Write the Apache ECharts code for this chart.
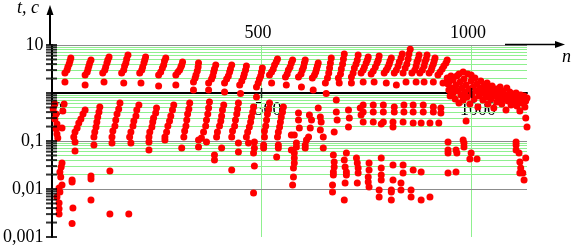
<!DOCTYPE html>
<html>
<head>
<meta charset="utf-8">
<script src="https://cdn.jsdelivr.net/npm/echarts@6/dist/echarts.min.js"></script>
<style>
  html, body { margin: 0; padding: 0; background: #fff; }
  #main { width: 573px; height: 248px; }
</style>
</head>
<body>
<div id="main"></div>
<script>
// t, c against n (log y axis)
var upperBand = [
  [46,5.36],[44,4.64],[42,4.02],[39,3.48],[37,3.01],[32,2.61],[32,1.69],
  [94,4.87],[91,4.22],[89,3.65],[87,3.16],[85,2.74],[80,2.37],[80,1.47],
  [137,5.62],[134,4.87],[132,4.22],[129,3.48],[127,3.01],[122,2.61],[125,1.69],
  [182,6.19],[179,5.11],[177,4.22],[174,3.65],[172,3.01],[167,2.61],[172,1.62],
  [224,5.62],[222,4.87],[220,4.22],[217,3.48],[215,3.01],[210,2.61],[213,1.62],
  [272,5.36],[269,4.64],[267,3.83],[264,3.32],[260,2.74],[255,2.37],[255,1.40],
  [312,4.42],[310,3.83],[308,3.48],[305,3.01],[301,2.74],[296,2.37],[296,1.47],
  [350,4.22],[349,3.48],[347,2.87],[344,2.37],[342,2.05],[338,1.69],[338,1.16],
  [391,3.83],[388,3.16],[386,2.74],[384,2.26],[381,1.96],[374,1.62],[374,1.16],
  [429,3.83],[426,3.16],[424,2.74],[421,2.26],[417,1.96],[412,1.62],[412,1.05],
  [464,3.65],[462,3.01],[459,2.49],[457,2.15],[453,1.78],[448,1.47],[450,0.98],
  [502,3.32],[500,2.74],[498,2.26],[495,1.96],[492,1.62],[488,1.33],[488,0.83],
  [538,5.11],[535,4.42],[531,3.83],[528,3.16],[524,2.74],[519,2.37],[524,1.62],
  [574,4.87],[571,4.22],[568,3.48],[564,3.01],[561,2.49],[557,2.15],[559,1.47],
  [604,4.87],[602,4.22],[600,3.48],[597,3.01],[594,2.49],[588,2.15],[595,1.33],
  [635,4.22],[633,3.65],[631,3.16],[629,2.74],[626,2.37],[621,2.05],[623,1.16],
  [666,5.36],[664,4.22],[662,3.32],[660,2.61],[657,2.05],[652,1.62],[654,0.98],
  [697,6.49],[695,5.11],[693,4.02],[690,3.16],[688,2.49],[683,2.05],[685,1.62],
  [730,6.19],[728,4.87],[725,4.02],[721,3.32],[718,2.61],[714,2.15],[714,1.62],
  [754,5.62],[752,4.87],[749,4.22],[745,3.48],[742,3.01],[737,2.61],[742,1.69],
  [780,5.90],[778,4.87],[775,4.22],[771,3.48],[766,2.87],[761,2.49],[768,1.69],
  [809,5.36],[806,4.64],[804,4.02],[801,3.48],[797,3.01],[792,2.61],[797,1.62],
  [835,6.49],[832,5.36],[828,4.42],[825,3.65],[821,3.01],[816,2.61],[821,1.47],
  [854,8.2],[851,6.49],[849,5.11],[846,4.02],[842,3.32],[837,2.61],[844,1.69],
  [875,6.19],[873,5.11],[870,4.42],[868,3.65],[865,3.01],[858,2.61],[868,1.69],
  [894,6.19],[892,5.11],[889,4.42],[887,3.65],[883,3.01],[877,2.61],[887,1.69],
  [913,5.36],[911,4.64],[909,4.02],[906,3.48],[904,3.01],[899,2.61],[909,1.69],
  [942,4.87],[939,4.22],[934,3.65],[930,3.16],[925,2.74],[920,2.37],[932,1.62]
];

var tailCloud = [
  [942,2.05],[944,1.54],[946,1.155],[949,0.866],[951,1.27],[956,1.87],[956,1.0],[961,0.75],
  [963,1.47],[965,2.26],[968,1.10],[970,0.619],[973,1.69],[975,0.909],[977,1.27],[980,0.715],
  [982,1.96],[984,1.05],[987,1.47],[989,0.825],[991,2.49],[994,1.21],[996,0.59],[999,1.78],
  [1001,0.953],[1004,1.33],[1006,0.75],[1008,2.05],[1011,1.10],[1013,1.54],[1015,0.511],[1018,0.866],
  [1020,1.27],[1022,1.78],[1025,1.0],[1027,0.715],[1030,1.40],[1032,1.10],[1034,0.825],[1037,1.62],
  [1039,0.59],[1041,1.21],[1044,0.953],[1046,0.75],[1049,1.40],[1051,1.05],[1053,0.487],[1056,0.866],
  [1058,1.21],[1060,0.649],[1063,1.0],[1065,0.787],[1068,1.33],[1070,0.953],[1072,0.59],[1075,1.10],
  [1077,0.75],[1080,0.909],[1082,0.442],[1084,1.27],[1087,0.681],[1089,0.866],[1091,1.05],[1094,0.562],
  [1096,0.787],[1098,0.953],[1101,0.649],[1103,0.75],[1106,1.0],[1108,0.536],[1110,0.681],[1113,0.825],
  [1115,0.422],[1117,0.909],[1120,0.619],[1122,0.75],[1125,0.866],[1127,0.511],[1129,0.681],[1132,0.787],
  [1129,0.301],[951,2.26],[970,2.49],[980,2.74],[999,2.37],[946,1.69],[961,1.27]
];

var lowerBand = [
  [8,0.59],[4,0.464],[11,0.365],[8,0.287],[13,0.226],[11,0.178],[13,0.14],[15,0.116],[30,0.59],[27,0.422],[25,0.187],
  [80,0.442],[75,0.365],[70,0.287],[65,0.237],[61,0.187],[56,0.154],[53,0.121],
  [115,0.511],[113,0.402],[110,0.316],[108,0.249],[106,0.196],[103,0.154],[101,0.121],
  [163,0.619],[160,0.464],[156,0.365],[153,0.274],[151,0.205],[146,0.162],[144,0.121],
  [208,0.562],[203,0.442],[201,0.332],[196,0.261],[194,0.205],[189,0.154],[186,0.121],
  [250,0.487],[248,0.383],[243,0.301],[241,0.249],[239,0.196],[234,0.154],[232,0.121],
  [291,0.562],[288,0.442],[284,0.332],[281,0.261],[277,0.205],[274,0.154],[270,0.121],
  [329,0.619],[327,0.464],[324,0.365],[322,0.274],[320,0.205],[317,0.162],[315,0.121],
  [376,0.649],[374,0.487],[372,0.365],[369,0.274],[367,0.205],[362,0.154],[357,0.116],
  [410,0.562],[407,0.442],[405,0.332],[403,0.261],[400,0.205],[395,0.154],[393,0.121],
  [445,0.619],[443,0.464],[441,0.365],[438,0.274],[436,0.205],[431,0.162],[429,0.121],
  [481,0.511],[479,0.402],[476,0.316],[474,0.249],[471,0.196],[467,0.154],[464,0.121],
  [519,0.619],[517,0.464],[514,0.365],[512,0.274],[510,0.205],[507,0.162],[507,0.121],
  [552,0.511],[550,0.402],[547,0.316],[545,0.249],[543,0.196],[540,0.154],[538,0.121],
  [588,0.383],[588,0.274],[578,0.133],[590,0.187],[614,0.348],
  [619,0.274],[616,0.187],[612,0.121],
  [635,0.487],[640,0.316],[642,0.249],[640,0.169],[647,0.121],
  [678,0.715],[678,0.402],[680,0.274],[673,0.154],
  [707,0.442],[709,0.301],[707,0.196],
  [735,0.487],[737,0.348],[742,0.249],
  [742,0.562],[742,0.402],[766,0.562],[766,0.402],[766,0.249],[790,0.562],[790,0.402],[790,0.249],[785,0.226],
  [816,0.511],[816,0.402],[813,0.249],[813,0.196],[839,0.562],[839,0.402],[837,0.249],
  [861,0.562],[861,0.402],[861,0.237],[885,0.562],[885,0.402],[880,0.237],
  [909,0.511],[909,0.402],[901,0.237],[922,0.237],[927,0.487],[927,0.383],
  [987,0.261],[1132,0.196]
];

var sparseLow = [
  [56,0.0953],[56,0.0622],[101,0.0825],[144,0.0909],[189,0.0909],[232,0.0953],[232,0.0649],[270,0.105],[310,0.0715],[350,0.105],[350,0.075],
  [369,0.0953],[388,0.0511],[388,0.0402],[405,0.0715],[429,0.0249],[445,0.0909],[445,0.059],[469,0.0909],[483,0.0953],[483,0.0715],
  [481,0.0562],[483,0.0301],[481,0.0083],[505,0.0825],[505,0.0715],[536,0.0464],[540,0.0825],[540,0.0715],
  [571,0.133],[571,0.0649],[578,0.0562],[578,0.0442],[578,0.0348],[576,0.0274],[576,0.0178],[574,0.0121],[583,0.0909],[583,0.075],
  [607,0.105],[604,0.0825],[604,0.0715],[647,0.0715],
  [671,0.0511],[673,0.0365],[673,0.0287],[671,0.0226],[671,0.0196],[669,0.0121],[669,0.0087],
  [702,0.0562],[697,0.0402],[699,0.0287],[702,0.0226],[702,0.0196],[699,0.0133],[697,0.0059],
  [726,0.0442],[728,0.0348],[730,0.0274],[730,0.0215],[728,0.0133],
  [756,0.0348],[756,0.0249],[754,0.0178],[754,0.014],[756,0.011],
  [785,0.0442],[785,0.0274],[785,0.0196],[785,0.0154],[780,0.0095],[780,0.0068],
  [813,0.0316],[813,0.0154],[809,0.0095],[809,0.0087],[809,0.0059],
  [837,0.0316],[837,0.0215],[832,0.0133],[832,0.0095],
  [856,0.0068],[861,0.0249],[856,0.0095],[880,0.0226],[880,0.0059],[901,0.0068],
  [944,0.0953],[944,0.0649],[944,0.0562],[963,0.0649],[965,0.0562],[980,0.105],[982,0.0909],[982,0.075],
  [999,0.0562],[996,0.0422],[1013,0.0422],[944,0.0215],[963,0.0226],
  [1106,0.0953],[1106,0.0825],[1106,0.0649],[1113,0.0562],[1115,0.0365],[1117,0.0274],[1115,0.0215],[1122,0.0215],[1125,0.0154],[1129,0.0442],
  [25,0.0348],[23,0.0287],[20,0.0226],[22,0.0178],[25,0.0121],[18,0.0105],[20,0.0087],[13,0.0068],[18,0.0051],[18,0.0039],[18,0.003],
  [49,0.0154],[49,0.014],[51,0.004],[49,0.0019],[94,0.0187],[94,0.0162],[94,0.0059],[139,0.0237],[139,0.003],[184,0.003]
];

var yDecades = [0.001, 0.01, 0.1, 1, 10];
var yTickLabels = ['0,001', '0,01', '0,1', '', '10'];
var xTicks = [500, 1000];
var xTickLabels = ['500', '1000'];

var serif = 'Liberation Serif';
var gridTop = 45, gridLeft = 50, gridRight = 46, gridBottom = 11;

// grid lines: green minors (2..9 of each decade) under grey decade lines
var greenLines = [], greyLines = [], yTickMarks = [];
yDecades.forEach(function (d, i) {
  yTickMarks.push([0, d]);
  if (d !== 1) greyLines.push({yAxis: d, lineStyle: {color: '#8c8c8c', width: 1, type: 'solid'}});
  if (i < yDecades.length - 1) {
    [2, 3, 4, 5, 6, 7, 8, 9].forEach(function (k) {
      greenLines.push({yAxis: k * d, lineStyle: {color: '#8ff08f', width: 1, type: 'solid'}});
      yTickMarks.push([0, k * d]);
    });
  }
});
xTicks.forEach(function (x) {
  greenLines.push({xAxis: x, lineStyle: {color: '#8ff08f', width: 1, type: 'solid'}});
});

function xLabel(v) {
  var i = xTicks.indexOf(v);
  return i >= 0 ? xTickLabels[i] : '';
}

var chart = echarts.init(document.getElementById('main'));
var option = {
  animation: false,
  grid: {left: gridLeft, right: gridRight, top: gridTop, bottom: gridBottom},
  xAxis: [
    {
      type: 'value', position: 'top', min: 0, max: 1132, interval: 500,
      axisLine: {show: false}, axisTick: {show: false}, splitLine: {show: false},
      axisLabel: {
        formatter: xLabel, showMaxLabel: false, margin: 3, padding: [0, 7, 0, 0],
        fontFamily: serif, fontSize: 18, color: '#000'
      }
    },
    {
      type: 'value', position: 'bottom', offset: -144, min: 0, max: 1132, interval: 500,
      axisLine: {show: true, lineStyle: {color: '#000', width: 2}},
      axisTick: {show: false}, splitLine: {show: false},
      axisLabel: {
        formatter: function (v) { return v === 0 ? '0' : xLabel(v); },
        showMaxLabel: false, margin: 8, padding: [0, 0, 0, 13],
        fontFamily: serif, fontSize: 18, color: '#000'
      }
    }
  ],
  yAxis: {
    type: 'log', logBase: 10, min: 0.001, max: 10,
    axisLine: {show: true, lineStyle: {color: '#000', width: 2}},
    axisTick: {show: false}, splitLine: {show: false},
    axisLabel: {
      formatter: function (v) { return yTickLabels[Math.round(Math.log10(v)) + 3]; },
      margin: 8, fontFamily: serif, fontSize: 18, color: '#000'
    }
  },
  series: [
    {
      type: 'scatter', data: [[0, 1]], symbolSize: 0, silent: true, z: 1,
      markLine: {
        silent: true, symbol: ['none', 'none'], z: 1, animation: false,
        label: {show: false}, emphasis: {disabled: true},
        data: greenLines.concat(greyLines)
      }
    },
    {
      name: 't', type: 'scatter', data: upperBand.concat(tailCloud),
      symbolSize: 7, itemStyle: {color: '#f00', opacity: 1}, z: 3
    },
    {
      name: 'c', type: 'scatter', data: lowerBand.concat(sparseLow),
      symbolSize: 7, itemStyle: {color: '#f00', opacity: 1}, z: 3
    },
    {
      type: 'scatter', data: yTickMarks, symbol: 'rect', symbolSize: [11, 2],
      itemStyle: {color: '#000'}, clip: false, silent: true, z: 4
    },
    {
      type: 'scatter', data: xTicks.map(function (x) { return [x, 1]; }), symbol: 'rect', symbolSize: [1.5, 10],
      itemStyle: {color: '#000'}, clip: false, silent: true, z: 4
    }
  ],
  graphic: [
    // y axis runs on above the plot, with an arrow
    {type: 'line', shape: {x1: gridLeft, y1: gridTop, x2: gridLeft, y2: 12}, style: {stroke: '#000', lineWidth: 2}, z: 10},
    {type: 'polygon', shape: {points: [[gridLeft, 5], [gridLeft - 3.5, 15], [gridLeft + 3.5, 15]]}, style: {fill: '#000'}, z: 10},
    // n arrow along the top
    {type: 'line', shape: {x1: 505, y1: gridTop - 0.5, x2: 556, y2: gridTop - 0.5}, style: {stroke: '#000', lineWidth: 1.5}, z: 10},
    {type: 'polygon', shape: {points: [[565, gridTop - 0.5], [555, gridTop - 4], [555, gridTop + 3]]}, style: {fill: '#000'}, z: 10},
    {type: 'text', x: 17, y: -1, style: {text: 't, c', font: 'italic 18px "Liberation Serif"', fill: '#000', align: 'left', verticalAlign: 'top'}, z: 10},
    {type: 'text', x: 562, y: 48, style: {text: 'n', font: 'italic 18px "Liberation Serif"', fill: '#000', align: 'left', verticalAlign: 'top'}, z: 10}
  ]
};
chart.setOption(option);
</script>
</body>
</html>
